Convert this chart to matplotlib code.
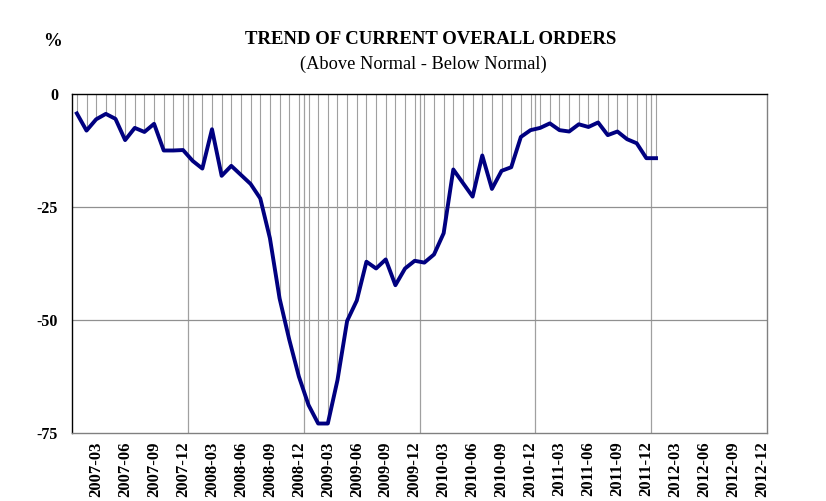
import numpy as np
import matplotlib.pyplot as plt

# monthly survey balance, 2007-01 .. 2012-01
values = [-4.3, -8.1, -5.6, -4.4, -5.5, -10.2, -7.5, -8.4, -6.6, -12.5, -12.5, -12.4,
          -14.8, -16.5, -7.8, -18.1, -15.9, -17.9, -19.9, -23.1, -31.9, -45.2, -54.3, -62.5,
          -68.8, -72.9, -72.9, -63.3, -50.2, -45.7, -37.1, -38.6, -36.6, -42.3, -38.6, -36.9,
          -37.3, -35.5, -30.8, -16.7, -19.7, -22.7, -13.6, -21.0, -17.0, -16.2, -9.5, -8.0,
          -7.5, -6.5, -8.0, -8.3, -6.7, -7.3, -6.3, -9.1, -8.3, -10.0, -10.9, -14.2, -14.2]
years = [2007, 2008, 2009, 2010, 2011, 2012]
months = [y * 100 + m for y in years for m in range(1, 13)]
tick_labels = ["%d-%02d" % (m // 100, m % 100) for m in months if m % 100 in (3, 6, 9, 12)]
yticks = [0, -25, -50, -75]

plt.rcParams['font.family'] = ['Liberation Serif', 'DejaVu Serif']

fig = plt.figure(figsize=(8.26, 5.01), dpi=100)
ax = fig.add_axes([0.0872, 0.1357, 0.8414, 0.6767])

x = np.arange(len(values))
ax.vlines(x, 0, values, color='#a0a0a0', lw=0.8, zorder=1)
ax.plot(x, values, color='#000080', lw=2.8, zorder=3)

for g in range(11, 60, 12):
    ax.axvline(g + 0.5, color='#a0a0a0', lw=0.9, zorder=0)
for t in (-25, -50):
    ax.axhline(t, color='#909090', lw=0.9, zorder=0)

ax.set_xlim(-0.5, len(months) - 0.5)
ax.set_ylim(-75, 0)
tick_pos = [i for i, m in enumerate(months) if m % 100 in (3, 6, 9, 12)]
ax.set_xticks(tick_pos)
ax.set_xticklabels(tick_labels, rotation=90, fontsize=12, fontweight='bold')
ax.set_yticks(yticks)
ax.set_yticklabels([str(v) for v in yticks], fontsize=11.5, fontweight='bold')
ax.tick_params(length=0, pad=10)
ax.tick_params(axis='x', pad=6)

ax.spines['left'].set_color('black')
ax.spines['top'].set_color('black')
ax.spines['right'].set_color('#808080')
ax.spines['bottom'].set_color('#808080')
for s in ax.spines.values():
    s.set_linewidth(1.0)

fig.text(0.521, 0.921, "TREND OF CURRENT OVERALL ORDERS", ha='center', va='center',
         fontsize=13.5, fontweight='bold')
fig.text(0.512, 0.872, "(Above Normal - Below Normal)", ha='center', va='center', fontsize=13.2)
fig.text(0.063, 0.918, "%", ha='center', va='center', fontsize=13.5, fontweight='bold')

fig.savefig("out.png", dpi=100)
